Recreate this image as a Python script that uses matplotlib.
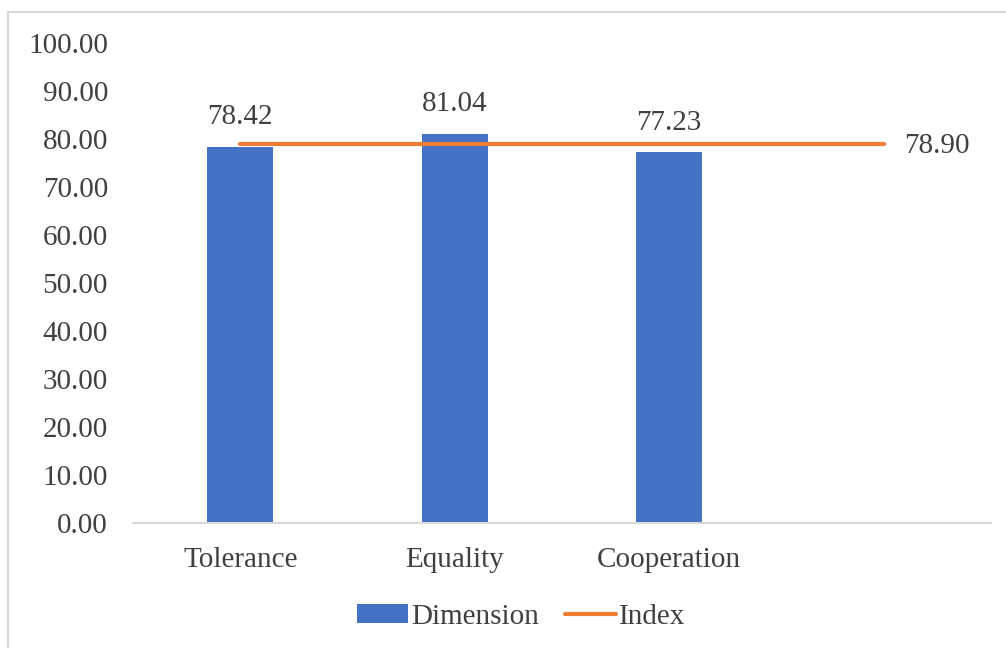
import numpy as np
import matplotlib
matplotlib.use("Agg")
import matplotlib.pyplot as plt
from matplotlib.patches import Rectangle

# Data
categories = ["Tolerance", "Equality", "Cooperation", ""]
dimension = [78.42, 81.04, 77.23, np.nan]
index_vals = [78.90, 78.90, 78.90, 78.90]

bar_color = "#4472C4"
line_color = "#ED7D31"
text_color = "#404040"
grid_color = "#D9D9D9"
fs = 21

plt.rcParams["font.family"] = ["Liberation Serif", "DejaVu Serif"]

fig = plt.figure(figsize=(10.06, 6.48), dpi=100)
ax = fig.add_axes([133 / 1006, 125 / 648, 858 / 1006, 480 / 648])

# outer chart frame
fig.patches.append(Rectangle((8 / 1006, -0.1), 1.2, (648 - 12) / 648 + 0.1,
                             transform=fig.transFigure, fill=False,
                             edgecolor=grid_color, linewidth=1.5))

x = np.arange(len(categories))
bars = ax.bar(x, dimension, width=0.31, color=bar_color, label="Dimension", zorder=2)
line, = ax.plot(x, index_vals, color=line_color, linewidth=3, solid_capstyle="round",
                label="Index", zorder=3)

# data labels
for xi, v in zip(x, dimension):
    if not np.isnan(v):
        ax.annotate(f"{v:.2f}", (xi, v), xytext=(0, 12), textcoords="offset points",
                    ha="center", va="bottom", fontsize=fs, color=text_color)
ax.annotate(f"{index_vals[-1]:.2f}", (x[-1], index_vals[-1]), xytext=(15, -1),
            textcoords="offset points", ha="left", va="center",
            fontsize=fs, color=text_color)

ax.set_xlim(-0.5, 3.5)
ax.set_ylim(0, 100)
ax.set_yticks(np.arange(0, 101, 10))
ax.set_yticklabels([f"{t:.2f}" for t in np.arange(0, 101, 10)])
ax.set_xticks(x)
ax.set_xticklabels(categories)

for s in ["top", "right", "left"]:
    ax.spines[s].set_visible(False)
ax.spines["bottom"].set_color(grid_color)
ax.spines["bottom"].set_linewidth(1.5)
ax.tick_params(axis="y", length=0, pad=18, labelsize=fs, labelcolor=text_color)
ax.tick_params(axis="x", length=0, pad=17, labelsize=fs, labelcolor=text_color)

ax.legend([bars, line], ["Dimension", "Index"], loc="center",
          bbox_to_anchor=(521 / 1006, 1 - 617 / 648),
          bbox_transform=fig.transFigure, ncol=2, frameon=False, fontsize=fs,
          labelcolor=text_color, handlelength=1.75, handleheight=0.6,
          handletextpad=0.1, columnspacing=0.9)

fig.savefig("out.png", dpi=100)
